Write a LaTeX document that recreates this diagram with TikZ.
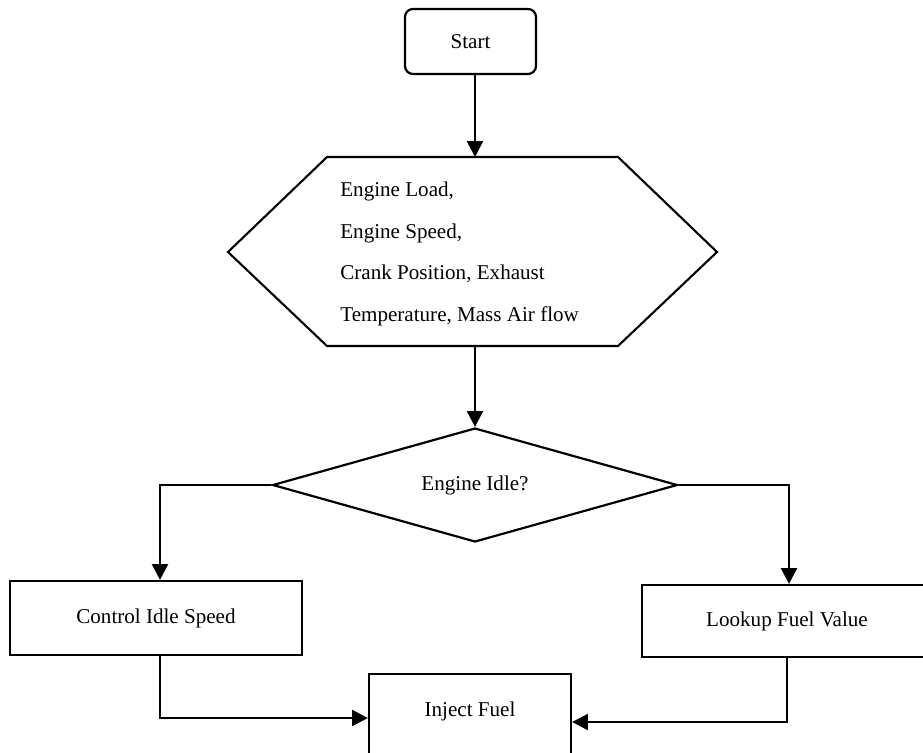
\documentclass[tikz,border=0pt]{standalone}
\usepackage{fontspec}
\setmainfont{Liberation Serif}
\usetikzlibrary{shapes.geometric,arrows.meta}

\begin{document}
\begin{tikzpicture}[x=0.02cm, y=-0.02cm, every node/.style={font=\fontsize{12}{14}\selectfont}, box/.style={draw, line width=1.25pt, inner sep=0pt}, edge/.style={line width=1.2pt, line join=miter}, arr/.style={line width=1.5pt, -{Triangle[length=9pt, width=9pt]}}]
	\useasboundingbox (0,0) rectangle (923,752);
	\clip (0,0) rectangle (923,752);
	\node[box, rounded corners=4.5pt, minimum width=2.62cm, minimum height=1.3cm] (start) at (470.5,41.5) {Start};
	\coordinate (h1) at (327,157); \coordinate (h2) at (618,157); \coordinate (h3) at (717,252); \coordinate (h4) at (618,346); \coordinate (h5) at (327,346); \coordinate (h6) at (228,252);
	\draw[edge] (h1) -- (h2) -- (h3) -- (h4) -- (h5) -- (h6) -- cycle;
	\coordinate (hextop) at (475,157); \coordinate (hexbot) at (475,346);
	\node[anchor=west, align=left, inner sep=0pt, font=\fontsize{12}{23.7}\selectfont] (inputs) at (340,254) {Engine Load,\\ Engine Speed,\\ Crank Position, Exhaust\\ Temperature, Mass Air flow};
	\node[box, diamond, aspect=3.55, minimum width=8.1cm, minimum height=2.28cm] (idle) at (475,485) {Engine Idle?};
	\node[box, minimum width=5.84cm, minimum height=1.48cm] (ctrl) at (156,618) {Control Idle Speed};
	\node[box, minimum width=5.8cm, minimum height=1.44cm] (lookup) at (787,621) {Lookup Fuel Value};
	\node[box, anchor=north, minimum width=4.04cm, text height=23.9pt, text depth=42.7pt] (inject) at (470,673) {Inject Fuel};
	\draw[arr] (start.south -| hextop) -- (hextop);
	\draw[arr] (hexbot) -- (idle.north);
	\draw[arr] (idle.west) -| (ctrl.north -| 160,0);
	\draw[arr] (idle.east) -| (lookup.north -| 789,0);
	\draw[arr] (ctrl.south -| 160,0) |- (inject.west |- 0,718);
	\draw[arr] (lookup.south) |- (inject.east |- 0,722);
\end{tikzpicture}
\end{document}
